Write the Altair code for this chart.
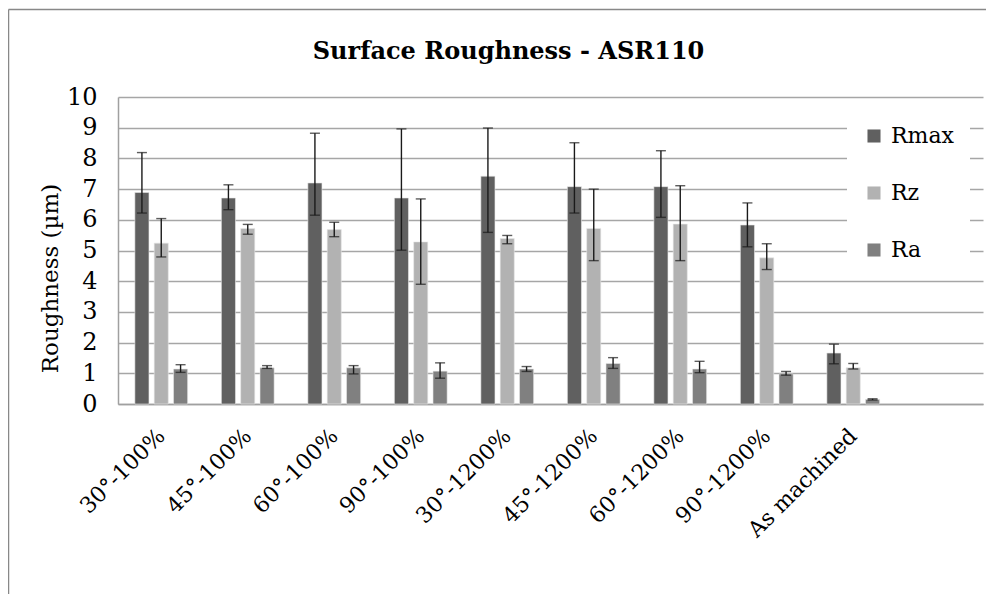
import altair as alt
import pandas as pd

categories = ["30°-100%", "45°-100%", "60°-100%", "90°-100%", "30°-1200%",
              "45°-1200%", "60°-1200%", "90°-1200%", "As machined"]
blank_slot = [" "]
series = ["Rmax", "Rz", "Ra"]
colors = ["#606060", "#b2b2b2", "#808080"]

Rmax = [6.89, 6.71, 7.20, 6.71, 7.42, 7.08, 7.08, 5.83, 1.66]
Rmax_lo = [6.22, 6.33, 6.15, 5.01, 5.59, 6.22, 6.08, 5.12, 1.31]
Rmax_hi = [8.19, 7.14, 8.82, 8.96, 8.99, 8.51, 8.25, 6.55, 1.95]
Rz = [5.24, 5.72, 5.68, 5.28, 5.39, 5.72, 5.86, 4.76, 1.18]
Rz_lo = [4.79, 5.53, 5.45, 3.90, 5.22, 4.67, 4.67, 4.38, 1.14]
Rz_hi = [6.04, 5.85, 5.92, 6.68, 5.49, 7.00, 7.11, 5.22, 1.32]
Ra = [1.14, 1.18, 1.18, 1.07, 1.14, 1.32, 1.14, 0.98, 0.15]
Ra_lo = [1.03, 1.16, 0.98, 0.84, 1.06, 1.16, 1.02, 0.94, 0.13]
Ra_hi = [1.28, 1.25, 1.25, 1.34, 1.22, 1.51, 1.39, 1.06, 0.17]

y_ticks = list(range(0, 11))

rows = []
for s, vals, los, his in [("Rmax", Rmax, Rmax_lo, Rmax_hi),
                          ("Rz", Rz, Rz_lo, Rz_hi),
                          ("Ra", Ra, Ra_lo, Ra_hi)]:
    for c, v, lo, hi in zip(categories, vals, los, his):
        rows.append({"cat": c, "series": s, "value": v, "lo": lo, "hi": hi})
df = pd.DataFrame(rows)

FONT = "DejaVu Serif"
W, H = 865, 307

x_axis = alt.Axis(title=None, labelAngle=-45, labelAlign="right", labelBaseline="middle",
                  labelPadding=28, labelFont=FONT, labelFontSize=22, labelColor="#000000",
                  ticks=False, domainColor="#a0a0a0", domainWidth=1.5, grid=False,
                  labelLimit=300)
y_axis = alt.Axis(values=y_ticks, title="Roughness (µm)", titleFont=FONT, titleFontSize=23,
                  titleFontWeight="normal", titleColor="#000000",
                  titleX=-56, titleY=181, titleBaseline="bottom", titleAngle=-90,
                  labelFont=FONT, labelFontSize=24, labelColor="#000000", labelPadding=21,
                  labelOverlap=False,
                  ticks=False, domainColor="#a0a0a0", domainWidth=1.5,
                  gridColor="#a6a6a6", gridWidth=1.4)
y_scale = alt.Scale(domain=[0, 10], nice=False)

x_enc = alt.X("cat:N", sort=categories + blank_slot,
              scale=alt.Scale(domain=categories + blank_slot, paddingInner=0.39, paddingOuter=0.195),
              axis=x_axis)
xo_enc = alt.XOffset("series:N", sort=series,
                     scale=alt.Scale(domain=series, paddingInner=0.27, paddingOuter=0))

base = alt.Chart(df)

bars = base.mark_bar(stroke="#e8e8e8", strokeWidth=0.6).encode(
    x=x_enc,
    xOffset=xo_enc,
    y=alt.Y("value:Q", scale=y_scale, axis=y_axis),
    color=alt.Color("series:N", sort=series,
                    scale=alt.Scale(domain=series, range=colors),
                    legend=alt.Legend(title=None, orient="none", legendX=729, legendY=12,
                                      fillColor="#ffffff", padding=16, rowPadding=35,
                                      labelFont=FONT, labelFontSize=22, labelColor="#000000",
                                      symbolType="square", symbolSize=170, symbolStrokeWidth=0,
                                      labelOffset=6)),
)

err = base.mark_rule(color="#1a1a1a", strokeWidth=1.4).encode(
    x=x_enc, xOffset=xo_enc, y=alt.Y("lo:Q", scale=y_scale, axis=y_axis), y2="hi:Q")
cap_lo = base.mark_tick(color="#1a1a1a", thickness=1.4, size=10, orient="horizontal").encode(
    x=x_enc, xOffset=xo_enc, y=alt.Y("lo:Q", scale=y_scale, axis=y_axis))
cap_hi = base.mark_tick(color="#1a1a1a", thickness=1.4, size=10, orient="horizontal").encode(
    x=x_enc, xOffset=xo_enc, y=alt.Y("hi:Q", scale=y_scale, axis=y_axis))

frame_df = pd.DataFrame({"k": [0]})
left_border = alt.Chart(frame_df).mark_rule(color="#888888", strokeWidth=1.5).encode(
    x=alt.value(-109.5), y=alt.value(-87.5), y2=alt.value(H + 220))
top_border = alt.Chart(frame_df).mark_rule(color="#888888", strokeWidth=1.5).encode(
    x=alt.value(-109.5), x2=alt.value(W + 30), y=alt.value(-87.5))

chart = alt.layer(bars, err, cap_lo, cap_hi, left_border, top_border).properties(
    width=W, height=H,
    title=alt.TitleParams("Surface Roughness - ASR110", font=FONT, fontSize=24, fontWeight="bold",
                          color="#000000", anchor="middle", frame="group", dx=-42, offset=0, dy=55),
    autosize=alt.AutoSizeParams(type="none"),
    padding={"left": 110, "top": 89, "right": 3, "bottom": 190},
    background="#ffffff",
).configure_view(stroke=None).configure_legend(labelFont=FONT)

chart.save("out.html", embed_options={"renderer": "svg", "actions": False})
